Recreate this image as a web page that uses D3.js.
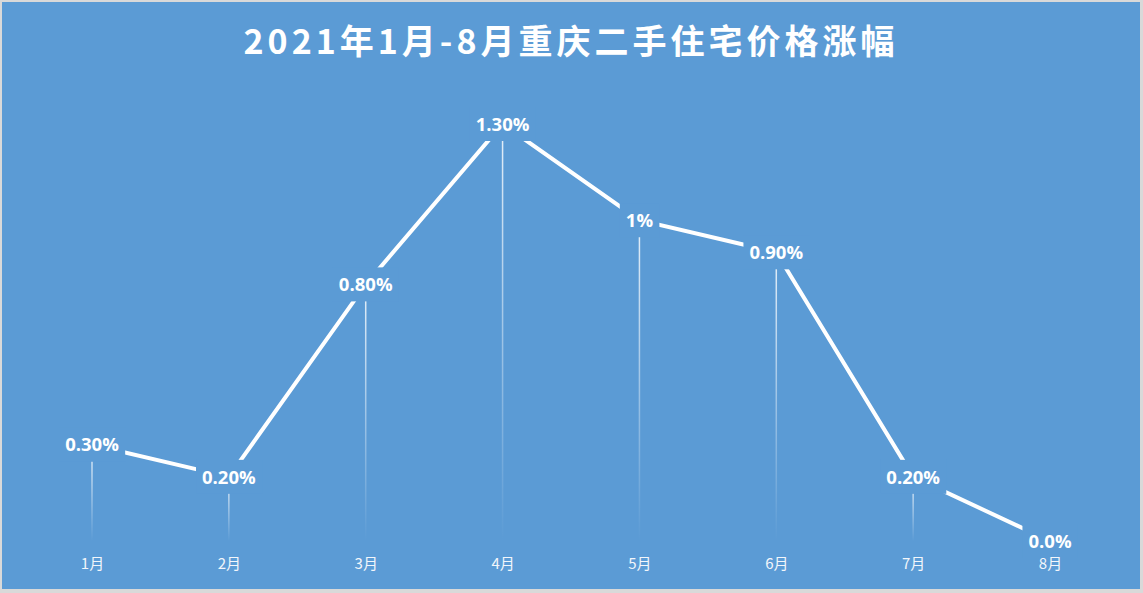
<!DOCTYPE html>
<html><head><meta charset="utf-8">
<script src="https://cdn.jsdelivr.net/npm/d3@7"></script>
<style>html,body{margin:0;padding:0;background:#fff;}svg{display:block;}</style>
</head><body>
<svg id="c" width="1143" height="593"></svg>
<script>
const title = "2021年1月-8月重庆二手住宅价格涨幅";
const months = ["1月","2月","3月","4月","5月","6月","7月","8月"];
const values = [0.30, 0.20, 0.80, 1.30, 1.00, 0.90, 0.20, 0.00];
const valueLabels = ["0.30%","0.20%","0.80%","1.30%","1%","0.90%","0.20%","0.0%"];

const W = 1143, H = 593, bg = "#5B9BD5";
const svg = d3.select("#c");
svg.append("rect").attr("x",0).attr("y",0).attr("width",W).attr("height",H).attr("fill","#D9D9D9");
svg.append("rect").attr("x",2).attr("y",2).attr("width",W-5).attr("height",H-6).attr("fill",bg);

const x = d3.scalePoint().domain(months).range([92, 1050]);
const y = d3.scaleLinear().domain([0, 1.3]).range([541, 124]);

const defs = svg.append("defs");
const g = defs.append("linearGradient").attr("id","drop").attr("x1",0).attr("y1",0).attr("x2",0).attr("y2",1);
g.append("stop").attr("offset","0%").attr("stop-color","#ffffff").attr("stop-opacity",0.85);
g.append("stop").attr("offset","100%").attr("stop-color","#ffffff").attr("stop-opacity",0.0);

svg.append("text").attr("x", 571).attr("y", 54).attr("text-anchor","middle")
  .attr("fill","#fff").attr("font-family","'Noto Sans CJK SC','Noto Sans',sans-serif")
  .attr("font-weight","bold").attr("font-size",34).attr("letter-spacing",4).text(title);

const data = months.map((m,i)=>({m, v: values[i], l: valueLabels[i]}));

// drop lines
svg.append("g").selectAll("rect").data(data.filter(d=>d.v>0)).join("rect")
  .attr("x", d=>x(d.m)-0.75).attr("width",1.5)
  .attr("y", d=>y(d.v)).attr("height", d=>y(0)-y(d.v))
  .attr("fill","url(#drop)");

// line
svg.append("path").datum(data)
  .attr("d", d3.line().x(d=>x(d.m)).y(d=>y(d.v)))
  .attr("fill","none").attr("stroke","#fff").attr("stroke-width",4).attr("stroke-linejoin","miter");

// labels with background
const lg = svg.append("g").selectAll("g").data(data).join("g")
  .attr("transform", d=>`translate(${x(d.m)},${y(d.v)})`);
lg.append("text").attr("text-anchor","middle").attr("dy","0.36em")
  .attr("fill","#fff").attr("font-family","'Open Sans','Noto Sans',sans-serif")
  .attr("font-weight","bold").attr("font-size",18.5).text(d=>d.l);
lg.each(function(){
  const t = d3.select(this).select("text");
  const b = t.node().getBBox();
  d3.select(this).insert("rect","text").attr("x", b.x-6).attr("y", -17)
    .attr("width", b.width+12).attr("height", 34).attr("fill", bg);
});

// axis (drawn on top)
const axis = d3.axisBottom(x).tickSize(0).tickPadding(0);
const ax = svg.append("g").attr("transform",`translate(0,${y(0)})`).call(axis);
ax.select(".domain").remove();
ax.selectAll("text").attr("y", 28).attr("dy","0").attr("fill","#F2F6FB")
  .attr("font-family","'Noto Sans CJK SC',sans-serif").attr("font-size",15);
</script>
</body></html>
